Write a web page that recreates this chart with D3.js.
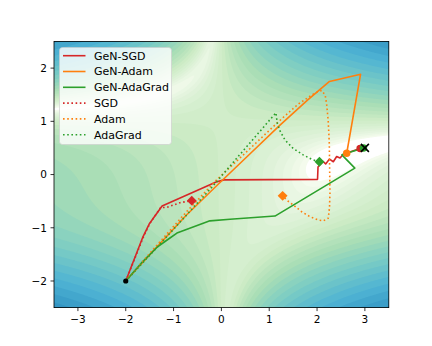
<!DOCTYPE html>
<html>
<head>
<meta charset="utf-8">
<script src="https://cdn.jsdelivr.net/npm/d3@7"></script>
<style>
body { margin: 0; background: #fff; }
text { font-family: "DejaVu Sans", sans-serif; fill: #000; }
</style>
</head>
<body>
<script>
// tick labels
var xTicks = [-3, -2, -1, 0, 1, 2, 3];
var yTicks = [-2, -1, 0, 1, 2];

// trajectories
var genSgdX = [-2, -1.64, -1.51, -1.24, -0.11, 0.05, 2.01, 2.02, 2.12, 2.18, 2.26, 2.34, 2.41, 2.48, 2.56, 2.70, 2.90];
var genSgdY = [-2, -1.17, -0.93, -0.59, -0.14, -0.10, -0.09, 0.14, 0.25, 0.20, 0.29, 0.24, 0.34, 0.31, 0.39, 0.43, 0.49];

var genAdamX = [-2, -1.4, -0.73, -0.1, 0.6, 1.225, 1.8, 2.26, 2.91, 2.62];
var genAdamY = [-2, -1.41, -0.76, -0.21, 0.39, 0.93, 1.40, 1.75, 1.885, 0.40];

var genAdaGradX = [-2, -1.65, -1.35, -1.12, -0.93, -0.24, 0.18, 1.12, 2.79, 2.52, 2.97];
var genAdaGradY = [-2, -1.64, -1.37, -1.22, -1.10, -0.87, -0.84, -0.78, 0.12, 0.37, 0.50];

var sgdX = [-2, -1.62, -1.49, -1.27, -1.15, -0.87, -0.62];
var sgdY = [-2, -1.15, -0.91, -0.62, -0.62, -0.53, -0.49];

var adamX = [-2, -1.4, -0.73, -0.1, 0.6, 1.19, 1.6, 1.96, 2.10, 2.17, 2.20, 2.235, 2.256, 2.27, 2.26, 2.235, 2.13, 2.026, 1.85, 1.68, 1.50, 1.365, 1.28];
var adamY = [-2, -1.38, -0.70, -0.10, 0.49, 0.99, 1.32, 1.535, 1.58, 1.49, 1.33, 0.985, 0.585, -0.35, -0.62, -0.82, -0.87, -0.854, -0.79, -0.70, -0.57, -0.48, -0.40];

var adaGradX = [-2, -1.4, -0.8, -0.2, 0.4, 0.9, 1.1, 1.14, 1.17, 1.22, 1.33, 1.50, 1.71, 1.89, 2.05];
var adaGradY = [-2, -1.42, -0.83, -0.24, 0.39, 0.91, 1.12, 1.16, 0.96, 0.83, 0.65, 0.49, 0.37, 0.285, 0.24];

var seriesNames = ["GeN-SGD", "GeN-Adam", "GeN-AdaGrad", "SGD", "Adam", "AdaGrad"];
var seriesColors = ["#d62728", "#ff7f0e", "#2ca02c", "#d62728", "#ff7f0e", "#2ca02c"];
var seriesDotted = [false, false, false, true, true, true];

var startPoint = [-2, -2];
var optimum = [3, 0.5];

// setup svg
var width = 432, height = 346;
var plot = { left: 54, right: 388.8, top: 41.5, bottom: 307.6 };

var svg = d3.select("body").append("svg")
            .attr("width", width)
            .attr("height", height);

var x = d3.scaleLinear().domain([-3.5, 3.5]).range([plot.left, plot.right]);
var y = d3.scaleLinear().domain([-2.5, 2.5]).range([plot.bottom, plot.top]);

svg.append("clipPath").attr("id", "clip")
   .append("rect")
   .attr("x", plot.left).attr("y", plot.top)
   .attr("width", plot.right - plot.left)
   .attr("height", plot.bottom - plot.top);

// Beale function surface as filled contours (log levels 1 .. 1e5)
function beale(a, b) {
    var t1 = 1.5 - a + a * b,
        t2 = 2.25 - a + a * b * b,
        t3 = 2.625 - a + a * b * b * b;
    return t1 * t1 + t2 * t2 + t3 * t3;
}
var step = 0.025, gx0 = -3.6, gy0 = -2.6;
var nx = Math.round(7.2 / step) + 1, ny = Math.round(5.2 / step) + 1;
var values = new Array(nx * ny);
for (var j = 0; j < ny; j++) {
    for (var i = 0; i < nx; i++) {
        values[j * nx + i] = Math.log10(beale(gx0 + i * step, gy0 + j * step) + 1e-12);
    }
}
var logLevels = d3.range(35).map(function(k) { return 5 * k / 34; });

var gnbu = ["#f7fcf0", "#e0f3db", "#ccebc5", "#a8ddb5", "#7bccc4", "#4eb3d3", "#2b8cbe", "#0868ac", "#084081"];
var cmap = d3.scaleLinear()
             .domain(d3.range(9).map(function(k) { return k / 8; }))
             .range(gnbu)
             .interpolate(d3.interpolateRgb);

var bands = d3.contours().size([nx, ny]).thresholds(logLevels.slice(0, 34))(values);

var gridToPlot = d3.geoTransform({
    point: function(px, py) {
        this.stream.point(x(gx0 + (px - 0.5) * step), y(gy0 + (py - 0.5) * step));
    }
});
var path = d3.geoPath(gridToPlot);

svg.append("g")
   .attr("clip-path", "url(#clip)")
   .selectAll("path")
   .data(bands)
   .enter()
     .append("path")
     .attr("d", path)
     .attr("fill", function(d, k) {
         // band colour at the arithmetic middle of the two levels
         var lo = Math.pow(10, logLevels[k]), hi = Math.pow(10, logLevels[k + 1]);
         return cmap(Math.log10((lo + hi) / 2) / 5);
     });

// trajectories
var allX = [genSgdX, genAdamX, genAdaGradX, sgdX, adamX, adaGradX];
var allY = [genSgdY, genAdamY, genAdaGradY, sgdY, adamY, adaGradY];
var series = seriesNames.map(function(name, k) {
    return { name: name, color: seriesColors[k], dotted: seriesDotted[k], points: d3.zip(allX[k], allY[k]) };
});

var line = d3.line()
             .x(function(d) { return x(d[0]); })
             .y(function(d) { return y(d[1]); });

var lines = svg.append("g").attr("clip-path", "url(#clip)");
lines.selectAll("path.traj")
     .data(series)
     .enter()
       .append("path")
       .classed("traj", true)
       .attr("d", function(d) { return line(d.points); })
       .attr("fill", "none")
       .attr("stroke", function(d) { return d.color; })
       .attr("stroke-width", 1.6)
       .attr("stroke-linejoin", "round")
       .attr("stroke-dasharray", function(d) { return d.dotted ? "1.6,2.6" : null; });

// end markers: circles for GeN runs, diamonds for plain runs
var ends = series.map(function(d) {
    return { color: d.color, dotted: d.dotted, p: d.points[d.points.length - 1] };
});
lines.selectAll("path.end")
     .data(ends)
     .enter()
       .append("path")
       .classed("end", true)
       .attr("transform", function(d) {
           return "translate(" + x(d.p[0]) + "," + y(d.p[1]) + ")" + (d.dotted ? " rotate(45)" : "");
       })
       .attr("d", function(d) {
           return d.dotted ? d3.symbol(d3.symbolSquare, 49)() : d3.symbol(d3.symbolCircle, 44)();
       })
       .attr("fill", function(d) { return d.color; });

// start and optimum
lines.append("circle")
     .attr("cx", x(startPoint[0])).attr("cy", y(startPoint[1]))
     .attr("r", 2.6)
     .attr("fill", "#000");
lines.append("path")
     .attr("transform", "translate(" + x(optimum[0]) + "," + y(optimum[1]) + ")")
     .attr("d", "M-4,-4L4,4M-4,4L4,-4")
     .attr("stroke", "#000")
     .attr("stroke-width", 1.6);

// axes
var axes = svg.append("g");
axes.append("rect")
    .attr("x", plot.left).attr("y", plot.top)
    .attr("width", plot.right - plot.left)
    .attr("height", plot.bottom - plot.top)
    .attr("fill", "none")
    .attr("stroke", "#000")
    .attr("stroke-width", 0.8);

function fmt(v) { return v < 0 ? "\u2212" + (-v) : String(v); }

axes.selectAll("line.xtick")
    .data(xTicks)
    .enter()
      .append("line")
      .classed("xtick", true)
      .attr("x1", function(d) { return x(d); })
      .attr("x2", function(d) { return x(d); })
      .attr("y1", plot.bottom)
      .attr("y2", plot.bottom + 3.5)
      .attr("stroke", "#000")
      .attr("stroke-width", 0.8);
axes.selectAll("text.xtick")
    .data(xTicks)
    .enter()
      .append("text")
      .classed("xtick", true)
      .attr("x", function(d) { return x(d); })
      .attr("y", plot.bottom + 7)
      .attr("dy", "0.76em")
      .attr("text-anchor", "middle")
      .attr("font-size", 10.5)
      .text(fmt);

axes.selectAll("line.ytick")
    .data(yTicks)
    .enter()
      .append("line")
      .classed("ytick", true)
      .attr("x1", plot.left - 3.5)
      .attr("x2", plot.left)
      .attr("y1", function(d) { return y(d); })
      .attr("y2", function(d) { return y(d); })
      .attr("stroke", "#000")
      .attr("stroke-width", 0.8);
axes.selectAll("text.ytick")
    .data(yTicks)
    .enter()
      .append("text")
      .classed("ytick", true)
      .attr("x", plot.left - 7)
      .attr("y", function(d) { return y(d); })
      .attr("dy", "0.36em")
      .attr("text-anchor", "end")
      .attr("font-size", 10.5)
      .text(fmt);

// legend
var legend = svg.append("g");
legend.append("rect")
      .attr("x", 59.5).attr("y", 47.5)
      .attr("width", 112).attr("height", 97)
      .attr("rx", 3)
      .attr("fill", "#fff").attr("fill-opacity", 0.8)
      .attr("stroke", "#ccc").attr("stroke-opacity", 0.8)
      .attr("stroke-width", 0.8);

var rows = legend.selectAll("g.row")
                 .data(series)
                 .enter()
                   .append("g")
                   .classed("row", true)
                   .attr("transform", function(d, k) { return "translate(0," + (55.7 + k * 15.8) + ")"; });
rows.append("line")
    .attr("x1", 63).attr("x2", 85.5)
    .attr("stroke", function(d) { return d.color; })
    .attr("stroke-width", 1.6)
    .attr("stroke-dasharray", function(d) { return d.dotted ? "1.6,2.6" : null; });
rows.append("text")
    .attr("x", 94)
    .attr("dy", "0.36em")
    .attr("font-size", 11)
    .text(function(d) { return d.name; });
</script>
</body>
</html>
